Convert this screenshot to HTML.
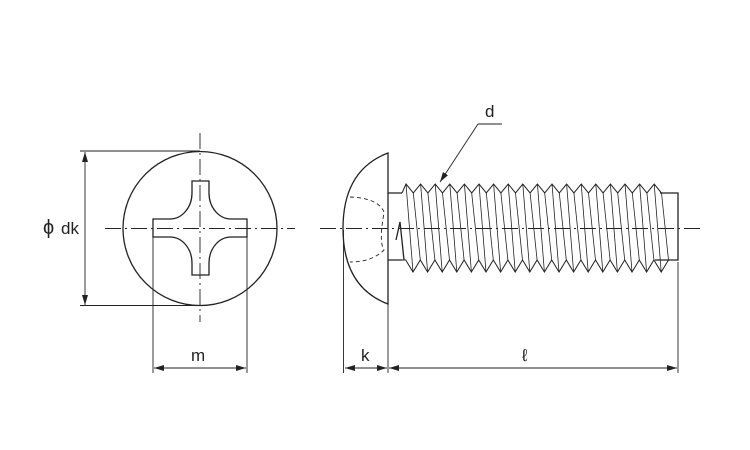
<!DOCTYPE html>
<html><head><meta charset="utf-8"><style>
html,body{margin:0;padding:0;background:#fff;}
svg{display:block;}
text{font-family:"Liberation Sans",sans-serif;fill:#222;}
</style></head><body>
<svg id="s" width="750" height="450" viewBox="0 0 750 450" xmlns="http://www.w3.org/2000/svg">
<defs>
<marker id="a" markerWidth="10" markerHeight="6" refX="10" refY="3" orient="auto-start-reverse" markerUnits="userSpaceOnUse"><path d="M0,0 L10,3 L0,6 z" fill="#222"/></marker>
</defs>
<g stroke="#222" fill="none" stroke-width="1.3">
<circle cx="200" cy="228.5" r="77"/>
<path d="M192,181 H209 V193 A22,26 0 0 0 231,219 H247 V237 H231 A22,26 0 0 0 209,263 V275 H192 V263 A22,26 0 0 0 170,237 H153 V219 H170 A22,26 0 0 0 192,193 Z"/>
</g>
<g stroke="#222" stroke-width="0.9" fill="none">
<line x1="200" y1="133" x2="200" y2="322" stroke-dasharray="16,4,2,4"/>
<line x1="105" y1="228.5" x2="295" y2="228.5" stroke-dasharray="16,4,2,4"/>
<line x1="80" y1="151" x2="200" y2="151"/>
<line x1="80" y1="305.5" x2="200" y2="305.5"/>
<line x1="85" y1="152" x2="85" y2="305" marker-start="url(#a)" marker-end="url(#a)"/>
<line x1="153" y1="237" x2="153" y2="373"/>
<line x1="247" y1="237" x2="247" y2="373"/>
<line x1="154" y1="368" x2="246" y2="368" marker-start="url(#a)" marker-end="url(#a)"/>
<line x1="320" y1="228.5" x2="700" y2="228.5" stroke-dasharray="16,4,2,4"/>
<line x1="343.5" y1="230" x2="343.5" y2="373"/>
<line x1="388" y1="290" x2="388" y2="373"/>
<line x1="678" y1="262" x2="678" y2="373"/>
<line x1="345" y1="368" x2="387" y2="368" marker-start="url(#a)" marker-end="url(#a)"/>
<line x1="389" y1="368" x2="677" y2="368" marker-start="url(#a)" marker-end="url(#a)"/>
<line x1="478" y1="124" x2="502" y2="124"/>
<line x1="478" y1="124" x2="440" y2="182" marker-end="url(#a)"/>
<path d="M350,197 Q378,198 384,212 L382,226 Q380,244 384,250 Q372,262 350,262" stroke-dasharray="4,3"/>
</g>
<g stroke="#222" fill="none" stroke-width="1.3">
<path d="M388,153 Q343,170 343,228.5 Q343,287 388,304 Z"/>
<path d="M388,193 H402 M388,260 H402"/>
<path d="M660,193 H678 V260 H655"/>
<path d="M396,240 L400,222 L404,260"/>
</g>
<g stroke="#222" fill="none" stroke-width="1" id="thr"></g>
<text x="43" y="234" font-size="20">ϕ</text>
<text x="61" y="234" font-size="17">dk</text>
<text x="191" y="361" font-size="17">m</text>
<text x="361" y="361" font-size="17">k</text>
<text x="522" y="361" font-size="17">ℓ</text>
<text x="485" y="117" font-size="17">d</text>
</svg>
<script>
var g=document.getElementById('thr'),p=14.6,s='';
var tp='M402,193',bt='M402,260';
for(var i=0;i<18;i++){var x=406+p*i;tp+=' L'+x+',184 L'+(x+p/2)+',193';
var xb=413+p*i;bt+=' L'+(xb-p/2)+',260 L'+xb+',272';
s+='M'+x+',184 L'+xb+',272 ';
s+='M'+(x+p/2)+',193 L'+(xb+p/2)+',260 ';}
bt+=' L'+(413+p*18-p/2)+',260';
g.innerHTML='<path d="'+tp+'"/><path d="'+bt+'"/><path d="'+s+'" stroke-width="0.8"/>';
</script>
</body></html>
